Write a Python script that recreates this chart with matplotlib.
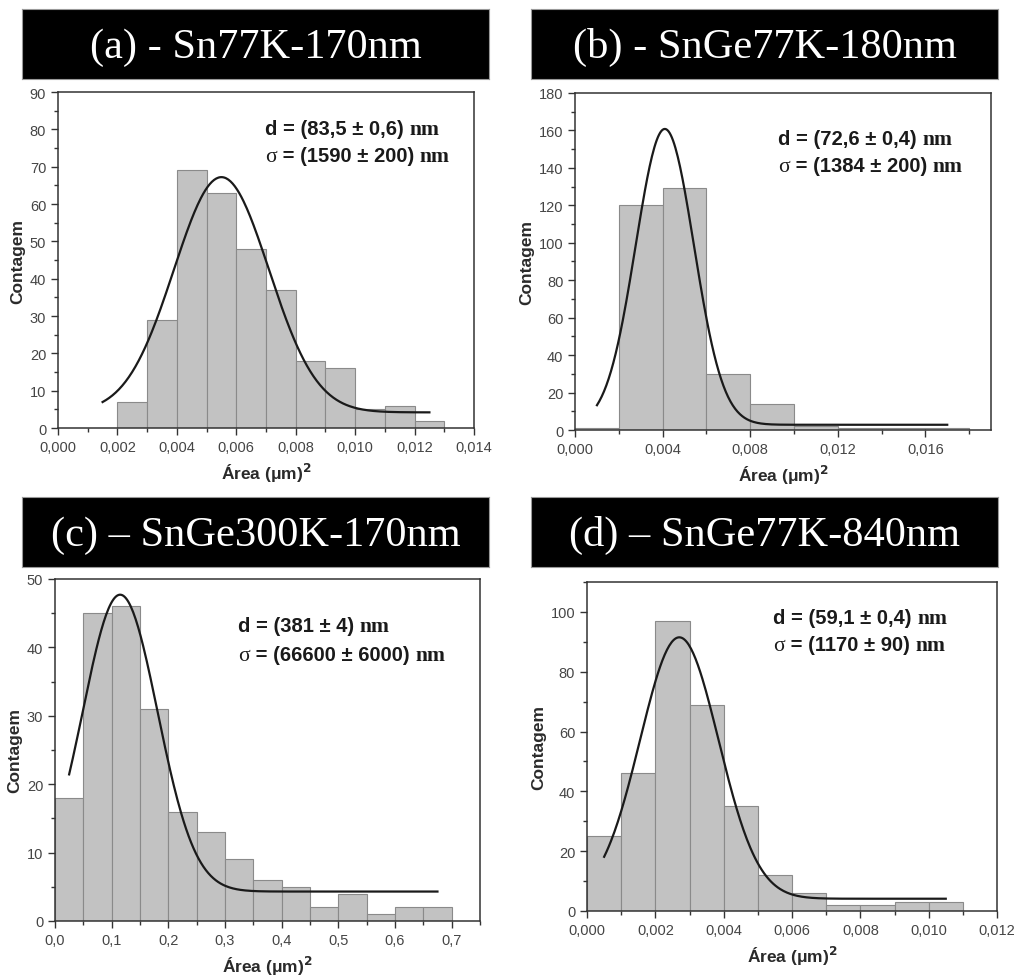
import numpy as np
import matplotlib
matplotlib.use('Agg')
import matplotlib.pyplot as plt
from matplotlib.ticker import MultipleLocator, FuncFormatter
from matplotlib.offsetbox import TextArea, HPacker, AnnotationBbox

# panel titles
titles = ['(a) - Sn77K-170nm', '(b) - SnGe77K-180nm',
          '(c) \u2013 SnGe300K-170nm', '(d) \u2013 SnGe77K-840nm']

# histogram data (first bin edge, bin width, counts)
start_a, width_a = 0.002, 0.001
counts_a = [7, 29, 69, 63, 48, 37, 18, 16, 5, 6, 2]
start_b, width_b = 0.0, 0.002
counts_b = [1, 120, 129, 30, 14, 2, 1, 1, 1]
start_c, width_c = 0.0, 0.05
counts_c = [18, 45, 46, 31, 16, 13, 9, 6, 5, 2, 4, 1, 2, 2]
start_d, width_d = 0.0, 0.001
counts_d = [25, 46, 97, 69, 35, 12, 6, 2, 2, 3, 3]

# gaussian fit: y0, A, xc, w, x range
fit_a = [4.2, 63.0, 0.0055, 0.0016, 0.0015, 0.0125]
fit_b = [2.8, 158.0, 0.0041, 0.00133, 0.001, 0.017]
fit_c = [4.3, 43.4, 0.115, 0.066, 0.025, 0.675]
fit_d = [4.1, 87.4, 0.0027, 0.00115, 0.0005, 0.0105]

# fit results printed on each panel
d_txt = ['(83,5 \u00b1 0,6)', '(72,6 \u00b1 0,4)', '(381 \u00b1 4)', '(59,1 \u00b1 0,4)']
s_txt = ['(1590 \u00b1 200)', '(1384 \u00b1 200)', '(66600 \u00b1 6000)', '(1170 \u00b1 90)']

xlims = [(0, 0.014), (0, 0.019), (0, 0.75), (0, 0.012)]
ylims = [(0, 90), (0, 180), (0, 50), (0, 110)]
xmaj = [0.002, 0.004, 0.1, 0.002]
ymaj = [10, 20, 10, 20]
xdec = [3, 3, 1, 3]

sans = 'Liberation Sans'
serif = 'Liberation Serif'
plt.rcParams['font.family'] = sans

fig = plt.figure(figsize=(10.16, 9.78), dpi=100)

title_pos = [[0.0217, 0.918, 0.4596, 0.0716], [0.5226, 0.918, 0.4596, 0.0716],
             [0.0217, 0.419, 0.4596, 0.0716], [0.5226, 0.419, 0.4596, 0.0716]]
ax_pos = [[0.0571, 0.5613, 0.4094, 0.3436], [0.566, 0.5593, 0.4094, 0.3446],
          [0.0541, 0.0573, 0.4183, 0.3497], [0.5778, 0.0675, 0.4035, 0.3364]]
txt_pos = [(0.498, 0.89, 0.81), (0.488, 0.864, 0.783),
           (0.431, 0.863, 0.778), (0.454, 0.89, 0.809)]

hists = [(start_a, width_a, counts_a), (start_b, width_b, counts_b),
         (start_c, width_c, counts_c), (start_d, width_d, counts_d)]
fits = [fit_a, fit_b, fit_c, fit_d]

for i in range(4):
    tax = fig.add_axes(title_pos[i])
    tax.set_facecolor('black')
    tax.set_xticks([])
    tax.set_yticks([])
    for s in tax.spines.values():
        s.set_color('#999999')
        s.set_linewidth(0.8)
    tax.text(0.5, 0.47, titles[i], color='white', fontsize=30.5, family=serif,
             ha='center', va='center', transform=tax.transAxes)

    ax = fig.add_axes(ax_pos[i])
    st, wd, cnt = hists[i]
    edges = st + wd * np.arange(len(cnt))
    ax.bar(edges, cnt, width=wd, align='edge', color='#c2c2c2',
           edgecolor='#8a8a8a', linewidth=0.8)

    y0, A, xc, w, x1, x2 = fits[i]
    xs = np.linspace(x1, x2, 300)
    ax.plot(xs, y0 + A * np.exp(-(xs - xc) ** 2 / (2 * w ** 2)), color='#1a1a1a', lw=1.6)

    ax.set_xlim(*xlims[i])
    ax.set_ylim(*ylims[i])
    ax.xaxis.set_major_locator(MultipleLocator(xmaj[i]))
    ax.xaxis.set_minor_locator(MultipleLocator(xmaj[i] / 2))
    ax.yaxis.set_major_locator(MultipleLocator(ymaj[i]))
    ax.yaxis.set_minor_locator(MultipleLocator(ymaj[i] / 2))
    nd = xdec[i]
    ax.xaxis.set_major_formatter(FuncFormatter(lambda v, p, nd=nd: f'{v:.{nd}f}'.replace('.', ',')))
    ax.tick_params(which='major', direction='out', length=5, width=1,
                   labelsize=10.5, labelcolor='#454545', color='#333333')
    ax.tick_params(which='minor', direction='out', length=3, width=1, color='#333333')
    for s in ax.spines.values():
        s.set_color('#333333')
        s.set_linewidth(1.1)
    ax.set_xlabel('\u00c1rea (\u03bcm)$\\mathbf{^2}$', fontsize=12.5, fontweight='bold', color='#2a2a2a', labelpad=5)
    ax.set_ylabel('Contagem', fontsize=12.5, fontweight='bold', color='#2a2a2a', labelpad=3)

    tx, ty1, ty2 = txt_pos[i]
    fs = 14.5
    line1 = HPacker(children=[
        TextArea('d = ' + d_txt[i] + ' ', textprops=dict(family=sans, fontweight='bold', fontsize=fs, color='#1a1a1a')),
        TextArea('nm', textprops=dict(family=serif, fontweight='bold', fontsize=fs + 1, color='#1a1a1a'))],
        align='baseline', pad=0, sep=0)
    line2 = HPacker(children=[
        TextArea('\u03c3', textprops=dict(family=serif, fontsize=fs + 1, color='#1a1a1a')),
        TextArea(' = ' + s_txt[i] + ' ', textprops=dict(family=sans, fontweight='bold', fontsize=fs, color='#1a1a1a')),
        TextArea('nm', textprops=dict(family=serif, fontweight='bold', fontsize=fs + 1, color='#1a1a1a'))],
        align='baseline', pad=0, sep=0)
    for line, ty in ((line1, ty1), (line2, ty2)):
        ab = AnnotationBbox(line, (tx, ty), xycoords='axes fraction', box_alignment=(0, 0.5),
                            frameon=False, pad=0)
        ax.add_artist(ab)

fig.savefig('out.png', dpi=100)
